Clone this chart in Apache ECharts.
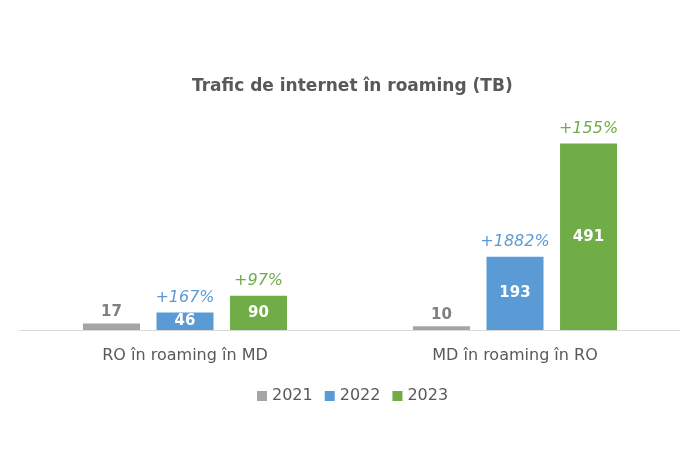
<!DOCTYPE html>
<html>
<head>
<meta charset="utf-8">
<script src="https://cdn.jsdelivr.net/npm/echarts@6/dist/echarts.min.js"></script>
<style>
    html, body { margin: 0; padding: 0; background: #fff; }
    #main { width: 700px; height: 466px; }
</style>
</head>
<body>
<div id="main"></div>
<script type="text/javascript">
    var categories = ['RO în roaming în MD', 'MD în roaming în RO'];
    var years = ['2021', '2022', '2023'];
    var values2021 = [17, 10];
    var values2022 = [46, 193];
    var values2023 = [90, 491];
    var growth2022 = ['+167%', '+1882%'];
    var growth2023 = ['+97%', '+155%'];

    var font = 'DejaVu Sans';
    var gray = '#A5A5A5', blue = '#5B9BD5', green = '#70AD47';

    function valueBar(name, data, color, stack, inside) {
        return {
            name: name,
            type: 'bar',
            stack: stack,
            data: data,
            barWidth: 57,
            barGap: '29%',
            itemStyle: { color: color },
            label: {
                show: true,
                position: inside ? 'inside' : 'top',
                distance: 4,
                color: inside ? '#fff' : '#7F7F7F',
                fontFamily: font,
                fontWeight: 'bold',
                fontSize: 15
            }
        };
    }

    // zero-height bar on top of the stack, only to carry the growth label
    function growthBar(data, labels, color, stack) {
        return {
            name: stack + '_growth',
            type: 'bar',
            stack: stack,
            data: data.map(function () { return 0; }),
            barWidth: 57,
            barGap: '29%',
            itemStyle: { color: 'transparent' },
            label: {
                show: true,
                position: 'top',
                distance: 7,
                color: color,
                fontFamily: font,
                fontStyle: 'italic',
                fontWeight: 500,
                fontSize: 16,
                formatter: function (p) { return labels[p.dataIndex]; }
            },
            tooltip: { show: false }
        };
    }

    var myChart = echarts.init(document.getElementById('main'));
    var option = {
        backgroundColor: '#fff',
        animation: false,
        title: {
            text: 'Trafic de internet în roaming (TB)',
            left: 187,
            top: 73,
            textStyle: {
                fontFamily: font,
                fontWeight: 'bold',
                fontSize: 17,
                color: '#595959'
            }
        },
        legend: {
            data: years,
            bottom: 57,
            left: 252,
            icon: 'rect',
            itemWidth: 10,
            itemHeight: 10,
            itemGap: 12,
            textStyle: { fontFamily: font, fontSize: 16, color: '#595959', padding: [0, 0, 0, 0] }
        },
        grid: { left: 20, right: 20, top: 140, bottom: 136 },
        xAxis: {
            type: 'category',
            data: categories,
            axisTick: { show: false },
            axisLine: { lineStyle: { color: '#D9D9D9', width: 1 } },
            axisLabel: { fontFamily: font, fontSize: 16, color: '#595959', margin: 18 }
        },
        yAxis: {
            type: 'value',
            min: 0,
            max: 500,
            show: false,
            splitLine: { show: false }
        },
        series: [
            valueBar('2021', values2021, gray, 'a', false),
            valueBar('2022', values2022, blue, 'b', true),
            growthBar(values2022, growth2022, blue, 'b'),
            valueBar('2023', values2023, green, 'c', true),
            growthBar(values2023, growth2023, green, 'c')
        ]
    };
    myChart.setOption(option);
</script>
</body>
</html>
